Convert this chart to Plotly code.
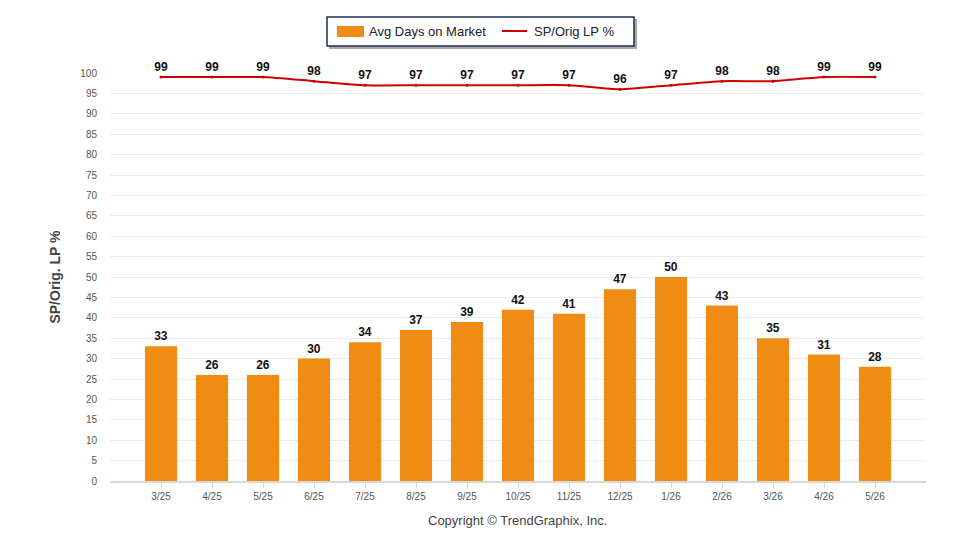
import plotly.graph_objects as go

months = ["3/25", "4/25", "5/25", "6/25", "7/25", "8/25", "9/25", "10/25", "11/25",
          "12/25", "1/26", "2/26", "3/26", "4/26", "5/26"]
avg_days = [33, 26, 26, 30, 34, 37, 39, 42, 41, 47, 50, 43, 35, 31, 28]
sp_orig = [99, 99, 99, 98, 97, 97, 97, 97, 97, 96, 97, 98, 98, 99, 99]
y_ticks = list(range(0, 101, 5))

xi = list(range(len(months)))
FONT = "Liberation Sans, Arial, sans-serif"
BAR_COLOR = "#F08C14"
LINE_COLOR = "#CC0000"

# plot area in pixels (for placing decorations outside the plot)
L, R, T, B = 110, 926, 73, 481
def px(x):
    return (x - L) / (R - L)
def py(y):
    return (B - y) / (B - T)

fig = go.Figure()
fig.add_trace(go.Bar(
    x=xi, y=avg_days, name="Avg Days on Market",
    marker=dict(color=BAR_COLOR, line=dict(width=0)),
    width=0.63,
    text=[str(v) for v in avg_days], textposition="outside",
    textfont=dict(family=FONT, size=12, color="#111111", weight="bold"),
    cliponaxis=False,
))
fig.add_trace(go.Scatter(
    x=xi, y=sp_orig, name="SP/Orig LP %", mode="lines+markers+text",
    line=dict(color=LINE_COLOR, width=2, shape="spline", smoothing=0.6),
    marker=dict(size=3, color=LINE_COLOR),
    text=[str(v) for v in sp_orig], textposition="top center",
    textfont=dict(family=FONT, size=12, color="#111111", weight="bold"),
    cliponaxis=False,
))

shapes = [
    # legend shadow and box
    dict(type="rect", xref="paper", yref="paper", x0=px(329), x1=px(637), y0=py(49), y1=py(19),
         fillcolor="#A8A8A8", line=dict(width=0), layer="above"),
    dict(type="rect", xref="paper", yref="paper", x0=px(327), x1=px(634), y0=py(46), y1=py(17),
         fillcolor="white", line=dict(color="#1F2F5A", width=1.5), layer="above"),
    dict(type="rect", xref="paper", yref="paper", x0=px(337), x1=px(364), y0=py(37), y1=py(26),
         fillcolor=BAR_COLOR, line=dict(width=0), layer="above"),
    dict(type="line", xref="paper", yref="paper", x0=px(502), x1=px(527), y0=py(31), y1=py(31),
         line=dict(color=LINE_COLOR, width=2), layer="above"),
]

annotations = [
    dict(text="Avg Days on Market", xref="paper", yref="paper", x=px(367), y=py(31.5),
         xanchor="left", yanchor="middle", showarrow=False,
         font=dict(family=FONT, size=13, color="#222222")),
    dict(text="SP/Orig LP %", xref="paper", yref="paper", x=px(532), y=py(31.5),
         xanchor="left", yanchor="middle", showarrow=False,
         font=dict(family=FONT, size=13, color="#222222")),
    dict(text="Copyright © TrendGraphix, Inc.", xref="paper", yref="paper",
         x=px(517), y=py(520), xanchor="center", yanchor="middle", showarrow=False,
         font=dict(family=FONT, size=13, color="#444444")),
]

fig.update_layout(
    width=960, height=550,
    margin=dict(l=L, r=960 - R, t=T, b=550 - B),
    plot_bgcolor="white", paper_bgcolor="white",
    font=dict(family=FONT, size=10, color="#555555"),
    showlegend=False,
    xaxis=dict(
        range=[-1, 15], tickmode="array", tickvals=xi, ticktext=months,
        showgrid=False, showline=True, linecolor="#D8D8D8", linewidth=2,
        ticks="outside", ticklen=5, tickcolor="#D8D8D8",
        tickfont=dict(size=10, color="#555555"), zeroline=False,
    ),
    yaxis=dict(
        range=[0, 100], tickmode="array", tickvals=y_ticks,
        showgrid=True, gridcolor="#EBEBEB", gridwidth=1, zeroline=False,
        tickfont=dict(size=10, color="#555555"), ticks="", ticklabelstandoff=12,
        title=dict(text="SP/Orig. LP %", font=dict(family=FONT, size=14, color="#444444", weight="bold"),
                   standoff=16),
    ),
    shapes=shapes,
    annotations=annotations,
)

fig.write_html("out.html")
